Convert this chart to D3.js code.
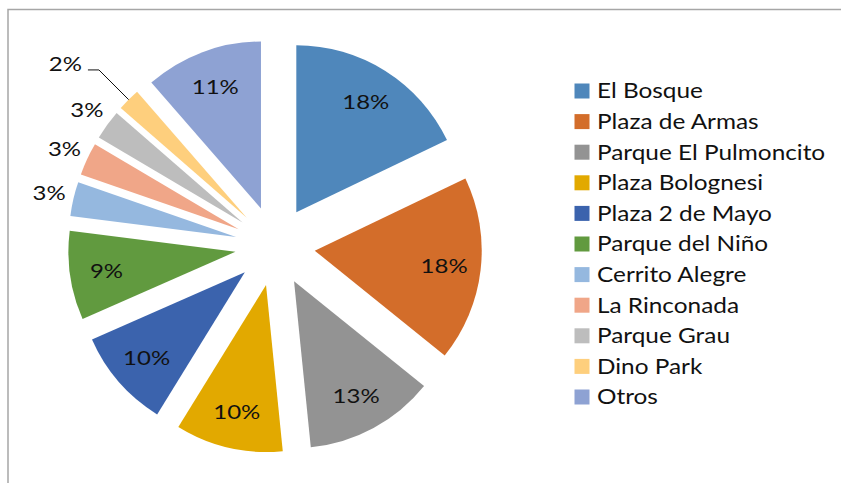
<!DOCTYPE html>
<html>
<head>
<meta charset="utf-8">
<script src="https://cdn.jsdelivr.net/npm/d3@7"></script>
<style>
    body { margin: 0; background: #fff; }
    text { font-family: Lato, "Open Sans", sans-serif; fill: #111; }
</style>
</head>
<body>
<svg id="chart" width="841" height="483"></svg>
<script>
var categories = ["El Bosque", "Plaza de Armas", "Parque El Pulmoncito", "Plaza Bolognesi",
    "Plaza 2 de Mayo", "Parque del Niño", "Cerrito Alegre", "La Rinconada",
    "Parque Grau", "Dino Park", "Otros"];
// shares in % (labels show them rounded)
var values = [17.9, 17.9, 12.6, 10.4, 9.6, 8.6, 3.3, 3.2, 2.9, 2.2, 11.4];
var colors = ["#4f87bb", "#d36d2a", "#939393", "#e2a900", "#3b63ad", "#619a3f",
    "#95b8df", "#f0a688", "#bdbdbd", "#fecf7d", "#8ea2d3"];

var svg = d3.select("#chart");

// chart frame (only top and left edges visible)
svg.append("path")
    .attr("d", "M8,483 L8,9.5 L841,9.5")
    .attr("fill", "none")
    .attr("stroke", "#a6a6a6")
    .attr("stroke-width", 1.5);

var cx = 275, cy = 246;
var radius = 167;
var explode = 40;
var stretch = 1.2;   // text in the original looks horizontally widened

var pie = d3.pie().sort(null).value(function(d) { return d; });
var arcs = pie(values);

var arc = d3.arc().innerRadius(0).outerRadius(radius);

var g = svg.append("g").attr("transform", "translate(" + cx + "," + cy + ")");

function midAngle(d) { return (d.startAngle + d.endAngle) / 2; }
function shift(d) {
    var a = midAngle(d);
    return [explode * Math.sin(a), -explode * Math.cos(a)];
}

var slices = g.selectAll("g.slice")
    .data(arcs)
    .enter()
    .append("g")
    .attr("class", "slice")
    .attr("transform", function(d) { var s = shift(d); return "translate(" + s[0] + "," + s[1] + ")"; });

slices.append("path")
    .attr("d", arc)
    .attr("fill", function(d, i) { return colors[i]; });

function addLabel(sel, x, y, anchor, txt) {
    sel.append("text")
        .attr("transform", "translate(" + x + "," + y + ") scale(" + stretch + ",1)")
        .attr("dy", "0.35em")
        .attr("text-anchor", anchor)
        .style("font-size", "20px")
        .text(txt);
}

// labels: inside for big slices, outside for small ones, leader line for the tiniest
slices.each(function(d) {
    var a = midAngle(d);
    var sel = d3.select(this);
    var sx = Math.sin(a), sy = -Math.cos(a);
    var txt = Math.round(d.value) + "%";
    if (d.value >= 5) {
        var r = radius * 0.78;
        addLabel(sel, r * sx, r * sy, "middle", txt);
    } else if (d.value >= 2.5) {
        var r2 = radius + 25;
        addLabel(sel, r2 * sx, r2 * sy, "middle", txt);
    } else {
        var r3 = radius + 42;
        var ex = r3 * sx, ey = r3 * sy;
        sel.append("polyline")
            .attr("points", [[radius * sx, radius * sy], [ex, ey], [ex - 11, ey]].join(" "))
            .attr("fill", "none")
            .attr("stroke", "#111")
            .attr("stroke-width", 1);
        addLabel(sel, ex - 17, ey - 6, "end", txt);
    }
});

// legend
var legend = svg.append("g").attr("transform", "translate(574.5,91)");
var rowH = 30.6;
var items = legend.selectAll("g")
    .data(categories)
    .enter()
    .append("g")
    .attr("transform", function(d, i) { return "translate(0," + (i * rowH) + ")"; });
items.append("rect")
    .attr("x", 0).attr("y", -7.5)
    .attr("width", 15).attr("height", 15)
    .attr("fill", function(d, i) { return colors[i]; });
items.append("text")
    .attr("transform", "translate(22.5,0) scale(1.16,1)")
    .attr("dy", "0.35em")
    .style("font-size", "21px")
    .text(function(d) { return d; });
</script>
</body>
</html>
